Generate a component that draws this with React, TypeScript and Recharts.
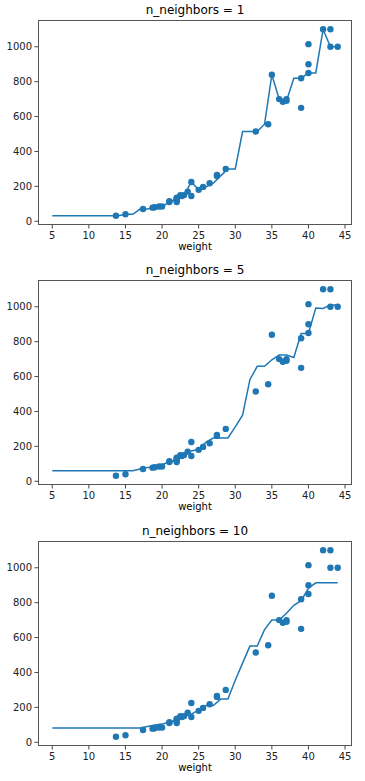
import { Scatter, ScatterChart, XAxis, YAxis } from "recharts";

const xTicks = [5, 10, 15, 20, 25, 30, 35, 40, 45];
const yTicks = [0, 200, 400, 600, 800, 1000];

// training fish (length, weight)
const trainLength = [
  13.7, 15.0, 17.4, 18.7, 19.0, 19.6, 20.0, 21.0, 21.0, 22.0, 22.0, 22.0, 22.0, 22.0,
  22.5, 22.7, 23.0, 23.5, 24.0, 24.0, 25.0, 25.6, 26.5, 27.5, 27.5, 28.7, 32.8, 34.5,
  35.0, 36.0, 36.5, 37.0, 37.0, 39.0, 39.0, 40.0, 40.0, 40.0, 42.0, 43.0, 43.0, 44.0,
];
const trainWeight = [
  32, 40, 70, 78, 80, 85, 85, 110, 115, 120, 120, 130, 135, 110,
  150, 145, 150, 170, 225, 145, 180, 197, 218, 260, 265, 300, 514, 556,
  840, 700, 685, 700, 690, 650, 820, 850, 900, 1015, 1100, 1000, 1100, 1000,
];

const gridX = [
  5, 6, 7, 8, 9, 10, 11, 12, 13, 14, 15, 16, 17, 18, 19, 20, 21, 22, 23, 24,
  25, 26, 27, 28, 29, 30, 31, 32, 33, 34, 35, 36, 37, 38, 39, 40, 41, 42, 43, 44,
];

const pred1 = [
  32, 32, 32, 32, 32, 32, 32, 32, 32, 32, 40, 40, 70, 70, 80, 85, 110, 130, 150, 225,
  180, 197, 218, 260, 300, 300, 514, 514, 514, 556, 840, 700, 690, 820, 820, 850, 850, 1100, 1000, 1000,
];
const pred5 = [
  60, 60, 60, 60, 60, 60, 60, 60, 60, 60, 60, 60, 70.6, 79.6, 79.6, 95, 112, 123, 149, 174,
  183.4, 224, 248, 248, 248, 311.4, 379, 582, 659, 659, 696.2, 723, 723, 709, 847, 847, 993, 990, 1010, 1010,
];
const pred10 = [
  81.5, 81.5, 81.5, 81.5, 81.5, 81.5, 81.5, 81.5, 81.5, 81.5, 81.5, 81.5, 81.5, 90.7, 99.3, 104, 116, 128.5, 148, 161,
  184, 211, 211, 247.4, 247.4, 355.5, 453.5, 551, 551, 645.5, 700.5, 700.5, 739, 785, 811, 882.5, 913.5, 913.5, 913.5, 913.5,
];

const BLUE = "#1f77b4";
const FONT = "'DejaVu Sans', sans-serif";
const X_DOMAIN: [number, number] = [3.05, 45.95];
const Y_DOMAIN: [number, number] = [-21.4, 1153.4];

const trainPoints = trainLength.map((x, i) => ({ x, y: trainWeight[i] }));

function Panel({ title, pred, top }: { title: string; pred: number[]; top: number }) {
  const linePoints = gridX.map((x, i) => ({ x, y: pred[i] }));
  return (
    <div style={{ position: "absolute", left: 0, top, width: 365, height: 260 }}>
      <div
        style={{
          position: "absolute",
          left: 38,
          width: 314,
          top: 3,
          textAlign: "center",
          fontFamily: FONT,
          fontSize: 12,
          color: "#000",
        }}
      >
        {title}
      </div>
      <ScatterChart width={365} height={260} margin={{ top: 20, right: 13, bottom: 5, left: 0 }}>
        <XAxis
          type="number"
          dataKey="x"
          domain={X_DOMAIN}
          ticks={xTicks}
          allowDataOverflow
          height={30}
          axisLine={false}
          tickSize={3.5}
          tickMargin={3}
          tickLine={{ stroke: "#444" }}
          tick={{ fontSize: 10, fill: "#222", fontFamily: FONT }}
        />
        <YAxis
          type="number"
          dataKey="y"
          domain={Y_DOMAIN}
          ticks={yTicks}
          allowDataOverflow
          width={38}
          axisLine={false}
          tickSize={3.5}
          tickMargin={2.5}
          tickLine={{ stroke: "#444" }}
          tick={{ fontSize: 10, fill: "#222", fontFamily: FONT }}
        />
        <Scatter
          data={trainPoints}
          fill={BLUE}
          isAnimationActive={false}
          shape={(p: any) => <circle cx={p.cx} cy={p.cy} r={3.2} fill={BLUE} />}
        />
        <Scatter
          data={linePoints}
          line={{ stroke: BLUE, strokeWidth: 1.5 }}
          lineType="joint"
          isAnimationActive={false}
          shape={() => <g />}
        />
      </ScatterChart>
      <div
        style={{
          position: "absolute",
          left: 38,
          top: 20,
          width: 314,
          height: 205,
          boxSizing: "border-box",
          border: "1px solid #555",
          pointerEvents: "none",
        }}
      />
      <div
        style={{
          position: "absolute",
          left: 38,
          width: 314,
          top: 241,
          textAlign: "center",
          fontFamily: FONT,
          fontSize: 10,
          color: "#000",
        }}
      >
        weight
      </div>
    </div>
  );
}

export default function App() {
  return (
    <div style={{ position: "absolute", left: 0, top: 0, width: 365, height: 781, background: "#fff" }}>
      <Panel title="n_neighbors = 1" pred={pred1} top={0} />
      <Panel title="n_neighbors = 5" pred={pred5} top={260} />
      <Panel title="n_neighbors = 10" pred={pred10} top={521} />
    </div>
  );
}
